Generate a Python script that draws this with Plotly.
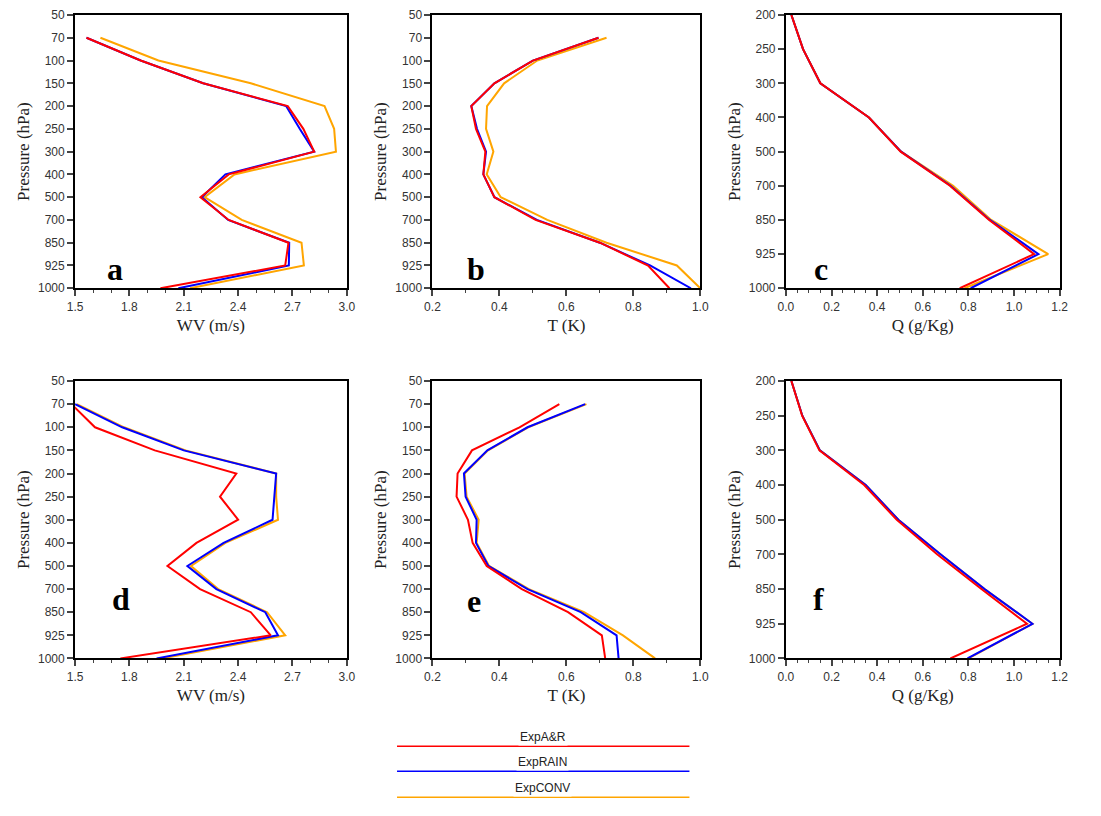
import plotly.graph_objects as go

lev13 = ["50","70","100","150","200","250","300","400","500","700","850","925","1000"]
lev9 = ["200","250","300","400","500","700","850","925","1000"]
lev12 = lev13[1:]

series_names = ["ExpA&R", "ExpRAIN", "ExpCONV"]
colors = ["#FF0000", "#0000FF", "#FFA500"]

# Panel a: WV (m/s), levels 70..1000
a_red  = [1.563,1.862,2.207,2.674,2.76,2.82,2.348,2.192,2.348,2.678,2.66,1.971]
a_blue = [1.563,1.862,2.207,2.665,2.74,2.82,2.33,2.20,2.345,2.682,2.68,2.07]
a_org  = [1.64,1.96,2.47,2.877,2.93,2.94,2.38,2.215,2.42,2.75,2.763,2.134]
# Panel b: T (K)
b_red  = [0.696,0.50,0.385,0.316,0.33,0.358,0.352,0.385,0.508,0.70,0.844,0.908]
b_blue = [0.696,0.50,0.385,0.316,0.333,0.36,0.352,0.385,0.512,0.70,0.85,0.972]
b_org  = [0.72,0.513,0.414,0.363,0.36,0.382,0.362,0.404,0.543,0.72,0.93,1.0]
# Panel c: Q (g/Kg), levels 200..1000
c_red  = [0.024,0.075,0.151,0.364,0.503,0.719,0.891,1.088,0.762]
c_blue = [0.024,0.075,0.151,0.364,0.505,0.722,0.894,1.107,0.81]
c_org  = [0.024,0.075,0.151,0.364,0.505,0.733,0.90,1.15,0.783]
# Panel d: WV (m/s)
d_red  = [1.48,1.61,1.94,2.39,2.30,2.40,2.17,2.01,2.19,2.47,2.58,1.75]
d_blue = [1.50,1.76,2.10,2.61,2.60,2.59,2.32,2.12,2.28,2.55,2.62,1.95]
d_org  = [1.51,1.77,2.11,2.61,2.61,2.62,2.33,2.14,2.29,2.56,2.66,1.98]
# Panel e: T (K)
e_red  = [0.579,0.46,0.318,0.275,0.272,0.306,0.32,0.362,0.467,0.605,0.706,0.716]
e_blue = [0.656,0.484,0.364,0.294,0.299,0.332,0.33,0.367,0.484,0.643,0.75,0.756]
e_org  = [0.660,0.486,0.366,0.296,0.302,0.338,0.332,0.369,0.488,0.653,0.769,0.865]
# Panel f: Q (g/Kg)
f_red  = [0.024,0.071,0.147,0.343,0.486,0.664,0.857,1.057,0.721]
f_blue = [0.024,0.072,0.149,0.35,0.493,0.679,0.871,1.081,0.796]
f_org  = [0.024,0.072,0.149,0.35,0.493,0.679,0.871,1.081,0.80]

W, H = 1101, 816
def px(x): return max(0.0, min(1.0, (x - 13) / W))
def py(y):
    yi = 10 + (y - 23) / 0.985
    return max(0.0, min(1.0, 1 - yi / H))

cols = [(73, 349), (436, 708), (795, 1073)]
rows = [(10, 287), (380, 658)]

panels = [
    ("a", [a_red, a_blue, a_org], lev12, lev13, (1.5, 3.0), 0.3, 0.1, "WV (m/s)", (103, 248)),
    ("b", [b_red, b_blue, b_org], lev12, lev13, (0.2, 1.0), 0.2, 0.1, "T (K)", (480, 248)),
    ("c", [c_red, c_blue, c_org], lev9, lev9, (0.0, 1.2), 0.2, 0.05, "Q (g/Kg)", (840, 248)),
    ("d", [d_red, d_blue, d_org], lev12, lev13, (1.5, 3.0), 0.3, 0.1, "WV (m/s)", (108, 618)),
    ("e", [e_red, e_blue, e_org], lev12, lev13, (0.2, 1.0), 0.2, 0.1, "T (K)", (478, 620)),
    ("f", [f_red, f_blue, f_org], lev9, lev9, (0.0, 1.2), 0.2, 0.05, "Q (g/Kg)", (836, 618)),
]

fig = go.Figure()
annotations = []
shapes = []
layout = {}
for i, (lab, data, levs, cats, xr, dt, mdt, xtitle, lpos) in enumerate(panels):
    r, c = divmod(i, 3)
    n = i + 1
    xa = "xaxis" if n == 1 else f"xaxis{n}"
    ya = "yaxis" if n == 1 else f"yaxis{n}"
    xs = "x" if n == 1 else f"x{n}"
    ys = "y" if n == 1 else f"y{n}"
    for k in [2, 1, 0]:
        fig.add_trace(go.Scatter(x=data[k], y=levs, mode="lines",
                                 line=dict(color=colors[k], width=2),
                                 xaxis=xs, yaxis=ys, showlegend=False, cliponaxis=True))
    x0, x1 = cols[c]
    y0, y1 = rows[r]
    layout[xa] = dict(domain=[px(x0), px(x1)], anchor=ys, range=list(xr), dtick=dt, tick0=xr[0],
                      tickformat=".1f", ticks="outside", ticklen=6, tickwidth=1.5,
                      minor=dict(dtick=mdt, tick0=xr[0], ticks="outside", ticklen=3, tickwidth=1),
                      showline=True, linecolor="black", linewidth=2, mirror=True,
                      showgrid=False, zeroline=False,
                      tickfont=dict(family="Liberation Sans", size=12, color="#333"),
                      title=dict(text=xtitle, font=dict(family="Liberation Serif", size=17, color="#222"), standoff=6))
    layout[ya] = dict(domain=[py(y1), py(y0)], anchor=xs, type="category",
                      categoryorder="array", categoryarray=cats, range=[len(cats) - 1, 0],
                      ticks="outside", ticklen=6, tickwidth=1.5,
                      showline=True, linecolor="black", linewidth=2, mirror=True,
                      showgrid=False, zeroline=False,
                      tickfont=dict(family="Liberation Sans", size=12, color="#333"),
                      title=dict(text="Pressure (hPa)", font=dict(family="Liberation Serif", size=17, color="#222"), standoff=4))
    annotations.append(dict(text=f"<b>{lab}</b>", x=px(lpos[0]), y=py(lpos[1]), xref="paper", yref="paper",
                            showarrow=False, font=dict(family="Liberation Serif", size=32, color="black")))

# legend drawn as lines with centred labels
leg_y = [746, 771, 797]
for k in range(3):
    shapes.append(dict(type="line", xref="paper", yref="paper", x0=px(400), x1=px(697),
                       y0=py(leg_y[k]), y1=py(leg_y[k]), line=dict(color=colors[k], width=1.5)))
    annotations.append(dict(text=series_names[k], x=px(548), y=py(leg_y[k]), xref="paper", yref="paper",
                            showarrow=False, bgcolor="white", borderpad=1,
                            font=dict(family="Liberation Sans", size=12, color="#222")))

fig.update_layout(width=W, height=H, margin=dict(l=0, r=0, t=0, b=0),
                  plot_bgcolor="white", paper_bgcolor="white",
                  annotations=annotations, shapes=shapes, **layout)
fig.write_html("out.html")
